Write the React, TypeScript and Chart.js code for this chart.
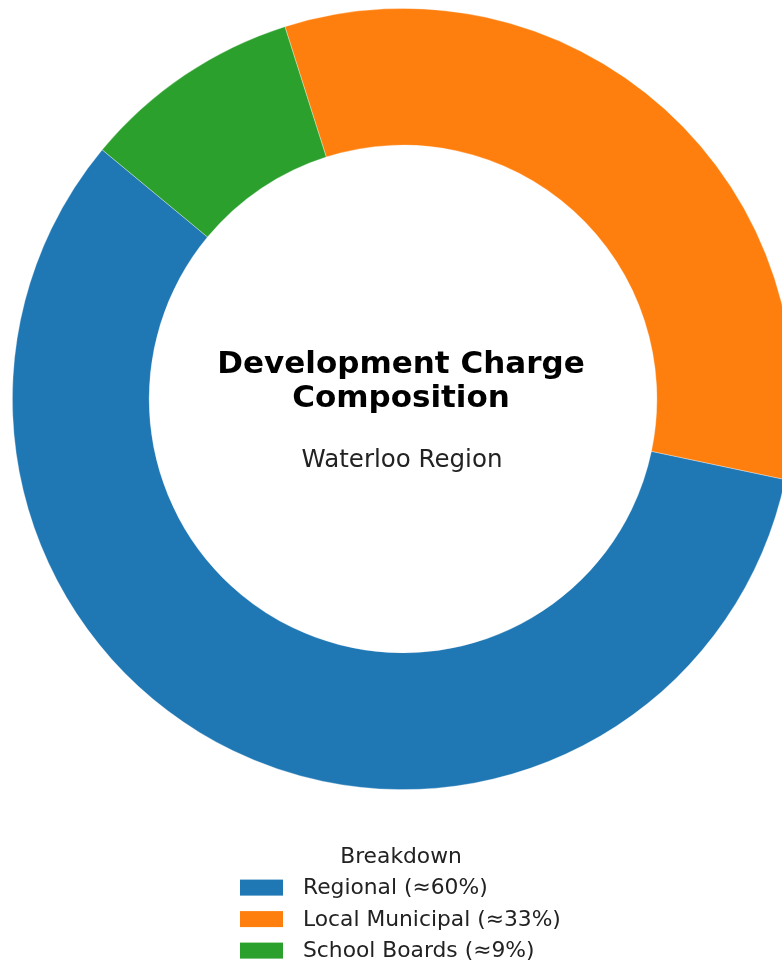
import React, { useEffect, useRef } from "react";
import { Chart, registerables } from "chart.js";

Chart.register(...registerables);

// Data
const categories = ["Regional", "Local Municipal", "School Boards"];
const legendLabels = ["Regional (≈60%)", "Local Municipal (≈33%)", "School Boards (≈9%)"];
const shares = [57.7, 33.2, 9.1];
const colors = ["#1f77b4", "#ff7f0e", "#2ca02c"];
// Wedges run counter-clockwise in the reference; Chart.js draws clockwise,
// so the dataset is assembled in this order.
const drawOrder = [1, 0, 2];

const titleLines = ["Development Charge", "Composition"];
const subtitle = "Waterloo Region";
const legendTitle = "Breakdown";

const FONT = "'DejaVu Sans', sans-serif";

const overlayPlugin = {
  id: "overlayText",
  afterDraw(chart: any) {
    const ctx = chart.ctx as CanvasRenderingContext2D;
    const meta = chart.getDatasetMeta(0);
    const arc = meta.data[0] as any;
    const cx = arc.x;
    const cy = arc.y;
    ctx.save();
    ctx.fillStyle = "#000";
    ctx.textAlign = "center";
    ctx.textBaseline = "alphabetic";
    ctx.font = `bold 31px ${FONT}`;
    ctx.fillText(titleLines[0], cx - 2, cy - 26);
    ctx.fillText(titleLines[1], cx - 2, cy + 8);
    ctx.fillStyle = "#222";
    ctx.font = `24.5px ${FONT}`;
    ctx.fillText(subtitle, cx - 1, cy + 68);

    // legend
    const bottom = arc.outerRadius + cy;
    ctx.fillStyle = "#222";
    ctx.font = `21.8px ${FONT}`;
    ctx.textAlign = "center";
    ctx.fillText(legendTitle, cx - 2, bottom + 73);
    const rowStart = bottom + 98;
    const rowGap = 31.5;
    ctx.textAlign = "left";
    ctx.textBaseline = "middle";
    legendLabels.forEach((lab, i) => {
      const y = rowStart + i * rowGap;
      ctx.fillStyle = colors[i];
      ctx.fillRect(240, y - 8, 43, 16);
      ctx.fillStyle = "#222";
      ctx.fillText(lab, 303, y + 1);
    });
    ctx.restore();
  },
};

export default function App() {
  const ref = useRef<HTMLCanvasElement | null>(null);
  useEffect(() => {
    if (!ref.current) return;
    const chart = new Chart(ref.current, {
      type: "doughnut",
      data: {
        labels: drawOrder.map((i) => categories[i]),
        datasets: [
          {
            data: drawOrder.map((i) => shares[i]),
            backgroundColor: drawOrder.map((i) => colors[i]),
            borderColor: "rgba(255,255,255,0.4)",
            borderWidth: 0.8,
            hoverOffset: 0,
            offset: 0,
          },
        ],
      },
      options: {
        animation: false,
        responsive: false,
        maintainAspectRatio: false,
        cutout: "65%",
        rotation: -17.6,
        layout: { padding: { top: 8, bottom: 179, left: 0, right: 0 } },
        plugins: {
          legend: { display: false },
          tooltip: { enabled: false },
          title: { display: false },
        },
        events: [],
      },
      plugins: [overlayPlugin],
    });
    return () => chart.destroy();
  }, []);
  return (
    <div
      style={{
        position: "fixed",
        left: 0,
        top: 0,
        width: 782,
        height: 969,
        overflow: "hidden",
        background: "#fff",
      }}
    >
      <canvas ref={ref} width={806} height={969} style={{ width: 806, height: 969, display: "block" }} />
    </div>
  );
}
